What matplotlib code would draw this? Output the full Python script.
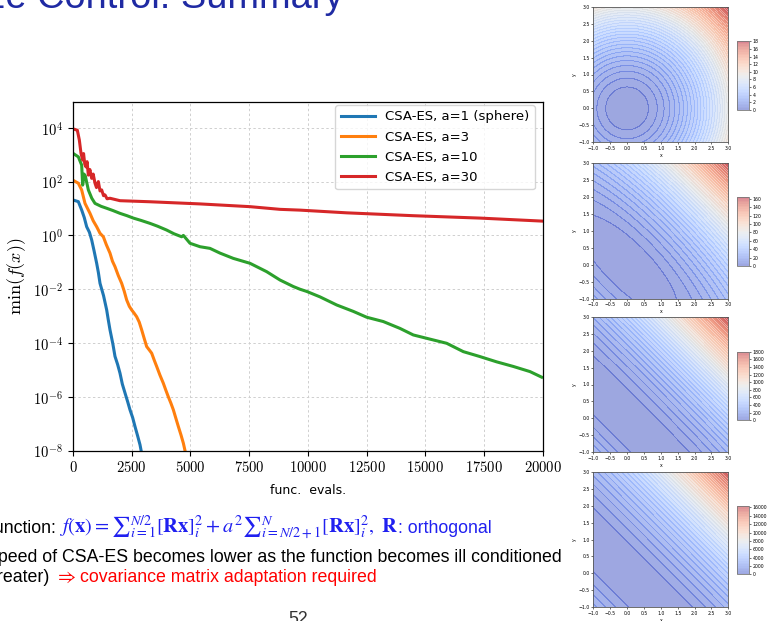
import numpy as np
import matplotlib
matplotlib.use("Agg")
import matplotlib.pyplot as plt
from matplotlib.ticker import FixedLocator, FuncFormatter, NullLocator

W, H = 771, 621

# ---- convergence curves: function evaluations vs. best f-value ----
evals_a1 = [0, 227, 369, 480, 582, 700, 795, 900, 1008, 1080, 1150, 1300, 1434,
            1500, 1575, 1700, 1788, 1900, 2001, 2100, 2214, 2330, 2427, 2540,
            2640, 2750, 2853, 2924]
f_a1 = [2.07e1, 1.8e1, 8.8e0, 4.6e0, 2.1e0, 1.3e0, 6.8e-1, 2.6e-1, 9.2e-2,
        4.2e-2, 1.66e-2, 5.8e-3, 1.7e-3, 7.5e-4, 3.1e-4, 9.0e-5, 3.2e-5,
        1.6e-5, 7.6e-6, 3.0e-6, 1.4e-6, 6.5e-7, 3.3e-7, 1.7e-7, 7.9e-8,
        3.6e-8, 1.66e-8, 7.9e-9]

evals_a3 = [0, 227, 369, 511, 620, 724, 860, 1008, 1150, 1292, 1420, 1575, 1680,
            1788, 1930, 2072, 2180, 2285, 2400, 2498, 2600, 2711, 2820, 2924,
            3030, 3137, 3250, 3350, 3460, 3563, 3700, 3847, 3950, 4060, 4170,
            4273, 4380, 4486, 4600, 4699, 4797]
f_a3 = [1.12e2, 8.7e1, 4.9e1, 1.55e1, 1.0e1, 6.6e0, 3.5e0, 2.1e0, 1.2e0,
        8.9e-1, 4.5e-1, 2.2e-1, 1.1e-1, 6.9e-2, 3.2e-2, 1.66e-2, 8.5e-3,
        4.0e-3, 2.3e-3, 1.7e-3, 1.3e-3, 9.5e-4, 6.0e-4, 3.1e-4, 1.5e-4,
        7.4e-5, 5.5e-5, 4.2e-5, 2.3e-5, 1.35e-5, 6.5e-6, 3.2e-6, 1.8e-6,
        1.0e-6, 5.8e-7, 3.3e-7, 1.6e-7, 7.9e-8, 3.8e-8, 1.9e-8, 7.9e-9]

evals_a10 = [0, 227, 369, 412, 470, 525, 653, 800, 937, 1200, 1434, 1700, 2001,
             2300, 2569, 2900, 3279, 3600, 3988, 4300, 4627, 4700, 4982, 5408,
             5833, 6259, 6826, 7536, 8245, 8814, 9381, 9666, 9949, 10517,
             11228, 11937, 12507, 13212, 13924, 14490, 15061, 15912, 16619,
             17300, 18041, 18749, 19459, 19957]
f_a10 = [1.12e3, 8.3e2, 4.1e2, 7.4e1, 1.9e2, 1.62e2, 4.9e1, 2.4e1, 1.55e1,
         1.2e1, 1.02e1, 8.4e0, 6.6e0, 5.4e0, 4.4e0, 3.6e0, 2.8e0, 2.2e0,
         1.58e0, 1.15e0, 8.9e-1, 1.0e0, 5.1e-1, 3.8e-1, 3.3e-1, 2.2e-1,
         1.4e-1, 9.2e-2, 4.5e-2, 2.2e-2, 1.26e-2, 1.0e-2, 8.3e-3, 5.2e-3,
         2.6e-3, 1.5e-3, 9.1e-4, 6.3e-4, 3.5e-4, 2.0e-4, 1.5e-4, 9.8e-5,
         4.8e-5, 3.2e-5, 2.0e-5, 1.35e-5, 8.7e-6, 5.4e-6]

evals_a30 = [0, 184, 270, 341, 412, 450, 500, 554, 600, 653, 720, 795, 860, 937,
             1000, 1079, 1150, 1221, 1300, 1363, 1450, 1575, 2001, 3279, 5408,
             7536, 8814, 9666, 11654, 14490, 17330, 19983]
f_a30 = [9.1e3, 8.1e3, 3.5e3, 1.12e3, 6.3e2, 1.1e3, 4.5e2, 3.5e2, 5.5e2,
         1.74e2, 2.8e2, 1.32e2, 1.9e2, 8.7e1, 6.0e1, 1.0e2, 4.5e1, 4.9e1,
         3.0e1, 3.2e1, 2.3e1, 2.4e1, 1.95e1, 1.78e1, 1.48e1, 1.17e1, 9.3e0,
         8.7e0, 6.9e0, 5.4e0, 4.4e0, 3.4e0]

series = [
    ("CSA-ES, a=1 (sphere)", evals_a1, f_a1, "#1f77b4"),
    ("CSA-ES, a=3", evals_a3, f_a3, "#ff7f0e"),
    ("CSA-ES, a=10", evals_a10, f_a10, "#2ca02c"),
    ("CSA-ES, a=30", evals_a30, f_a30, "#d62728"),
]

x_ticks = [0, 2500, 5000, 7500, 10000, 12500, 15000, 17500, 20000]
y_ticks = [1e-8, 1e-6, 1e-4, 1e-2, 1e0, 1e2, 1e4]

# ---- ill-conditioned quadratic test functions shown as contour maps ----
a_values = [1, 3, 10, 30]
cbar_ticks = [list(range(0, 19, 2)), list(range(0, 161, 20)),
              list(range(0, 1801, 200)), list(range(0, 16001, 2000))]


def px_rect(left, top, right, bottom):
    return [left / W, 1 - bottom / H, (right - left) / W, (bottom - top) / H]


fig = plt.figure(figsize=(W / 100, H / 100), dpi=100)
fig.patch.set_facecolor("white")

# ---- main convergence plot ----
ax = fig.add_axes(px_rect(73, 101.7, 542.7, 450.7))
for label, xs, ys, col in series:
    ax.plot(xs, ys, color=col, lw=2.2, label=label, solid_joinstyle="round")
ax.set_yscale("log")
ax.set_xlim(0, 20000)
ax.set_ylim(1e-8, 9.3e4)
ax.xaxis.set_major_locator(FixedLocator(x_ticks))
ax.yaxis.set_major_locator(FixedLocator(y_ticks))
ax.yaxis.set_minor_locator(NullLocator())
ax.xaxis.set_major_formatter(FuncFormatter(lambda v, p: r"$%d$" % int(v)))
ax.yaxis.set_major_formatter(
    FuncFormatter(lambda v, p: r"$10^{%d}$" % int(round(np.log10(v)))))
for t in ax.get_xticklabels() + ax.get_yticklabels():
    t.set_math_fontfamily("cm")
ax.tick_params(labelsize=10.5, length=3.5, width=0.8, direction="out")
ax.grid(True, ls=(0, (2.5, 2.5)), color="#cfcfcf", lw=0.7)
for s in ax.spines.values():
    s.set_linewidth(0.9)
ax.set_xlabel("func.  evals.", fontsize=9, labelpad=6)
ylab = ax.set_ylabel(r"$\min(f(x))$", fontsize=13, labelpad=4)
ylab.set_math_fontfamily("cm")
leg = ax.legend(loc="upper right", bbox_to_anchor=(535 / W, 1 - 105 / H),
                bbox_transform=fig.transFigure, borderaxespad=0,
                fontsize=9.5, handlelength=2.6, labelspacing=0.55,
                framealpha=0.8, fancybox=True)
leg.get_frame().set_edgecolor("#cccccc")

# ---- contour panels with colorbars ----
axes_tops = [6.7, 163.3, 316.7, 471.7]
cbar_tops = [41.3, 197.3, 351.7, 505.7]
grid = np.linspace(-1, 3, 241)
GX, GY = np.meshgrid(grid, grid)
U = (GX - GY) / np.sqrt(2)
V = (GX + GY) / np.sqrt(2)
panel_ticks = [-1.0, -0.5, 0.0, 0.5, 1.0, 1.5, 2.0, 2.5, 3.0]
for a, top, ctop, cticks in zip(a_values, axes_tops, cbar_tops, cbar_ticks):
    cax_ = fig.add_axes(px_rect(593.3, top, 728.3, top + 135.6))
    F = U ** 2 + a ** 2 * V ** 2
    cs = cax_.contourf(GX, GY, F, levels=50, cmap="coolwarm", alpha=0.5)
    cax_.contour(GX, GY, F, levels=50, cmap="coolwarm", alpha=0.22,
                 linewidths=0.35)
    cax_.set_xticks(panel_ticks)
    cax_.set_yticks(panel_ticks)
    cax_.tick_params(labelsize=3.3, length=1.5, width=0.4, pad=1)
    cax_.set_xlabel("x", fontsize=3.3, labelpad=1.5)
    cax_.set_ylabel("y", fontsize=3.3, labelpad=1.5)
    for s in cax_.spines.values():
        s.set_linewidth(0.6)
        s.set_color("#555555")
    cb_ax = fig.add_axes(px_rect(736.7, ctop, 749.3, ctop + 68.7))
    cb = fig.colorbar(cs, cax=cb_ax, ticks=cticks)
    cb.ax.tick_params(labelsize=3.3, length=1.5, width=0.4, pad=1)
    cb.outline.set_linewidth(0.6)
    cb.outline.set_edgecolor("#777777")

# ---- slide text ----
sans = "Liberation Sans"
blue = "#2020f0"
fig.text(343 / W, 1 - 8 / H, "Step-size Control: Summary", ha="right",
         va="baseline", fontsize=27.4, family=sans, color="#1f2aa3")

fig.text(56 / W, 1 - 533 / H, "Function:", ha="right", va="baseline",
         fontsize=12.8, family=sans, color="black")
formula = fig.text(59 / W, 1 - 533 / H,
                   r"$f(\mathbf{x}) = {\sum}_{i=1}^{N/2}[\mathbf{Rx}]_i^2 + a^2"
                   r"{\sum}_{i=N/2+1}^{N}[\mathbf{Rx}]_i^2,\ \mathbf{R}$",
                   ha="left", va="baseline", fontsize=14.7, color=blue,
                   math_fontfamily="stix")
fig.canvas.draw()
bb = formula.get_window_extent(fig.canvas.get_renderer())
fig.text(bb.x1 / W, 1 - 533 / H, ": orthogonal", ha="left",
         va="baseline", fontsize=12.8, family=sans, color=blue)

fig.text(562 / W, 1 - 562 / H,
         "Speed of CSA-ES becomes lower as the function becomes ill conditioned",
         ha="right", va="baseline", fontsize=12.8, family=sans, color="black")
fig.text(50 / W, 1 - 582 / H, "greater)", ha="right", va="baseline",
         fontsize=12.8, family=sans, color="black")
fig.text(55 / W, 1 - 582 / H, r"$\Rightarrow$", ha="left", va="baseline",
         fontsize=14, color="#ff0000", math_fontfamily="stix")
fig.text(80 / W, 1 - 582 / H, "covariance matrix adaptation required",
         ha="left", va="baseline", fontsize=12.8, family=sans,
         color="#ff0000")
fig.text(298 / W, 1 - 624.5 / H, "52", ha="center", va="baseline",
         fontsize=12.8, family=sans, color="#333333")

fig.savefig("out.png", dpi=100)
